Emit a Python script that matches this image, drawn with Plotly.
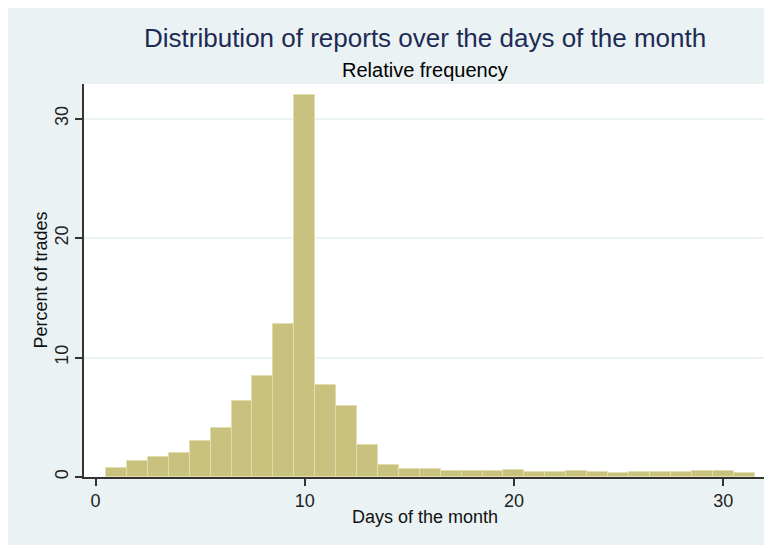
import plotly.graph_objects as go

days = list(range(1, 32))
percent = [0.75, 1.37, 1.71, 2.04, 3.0, 4.14, 6.33, 8.46, 12.85, 32.0,
           7.7, 5.94, 2.68, 1.04, 0.67, 0.67, 0.53, 0.53, 0.48, 0.56,
           0.39, 0.39, 0.5, 0.42, 0.34, 0.42, 0.42, 0.42, 0.5, 0.53, 0.31]
x_ticks = [0, 10, 20, 30]
y_ticks = [0, 10, 20, 30]

title_text = "Distribution of reports over the days of the month"
subtitle_text = "Relative frequency"
x_title = "Days of the month"
y_title = "Percent of trades"

# page body has an 8px margin, so the figure starts at (8, 8) in the window
W, H = 762, 537
L, R, T, B = 76, 5, 76, 68
pw, ph = W - L - R, H - T - B

fig = go.Figure()
fig.add_trace(go.Bar(
    x=days, y=percent, width=1,
    marker=dict(color="#C9C27E", line=dict(color="#E2DDAE", width=1)),
    hoverinfo="x+y",
))

fig.update_layout(
    width=W, height=H,
    margin=dict(l=L, r=R, t=T, b=B),
    paper_bgcolor="#EAF2F3", plot_bgcolor="white",
    font=dict(family="Liberation Sans, Arial, sans-serif", color="#111111"),
    showlegend=False, bargap=0,
    annotations=[
        dict(text=title_text, xref="paper", yref="paper", x=0.5, y=1 + (T - 30.5) / ph,
             showarrow=False, xanchor="center", yanchor="middle",
             font=dict(size=26, color="#1E2B55")),
        dict(text=subtitle_text, xref="paper", yref="paper", x=0.5, y=1 + (T - 62) / ph,
             showarrow=False, xanchor="center", yanchor="middle",
             font=dict(size=20, color="#000000")),
        dict(text=x_title, xref="paper", yref="paper", x=0.5, y=-(509 - (T + ph)) / ph,
             showarrow=False, xanchor="center", yanchor="middle",
             font=dict(size=18, color="#111111")),
        dict(text=y_title, xref="paper", yref="paper", x=(32 - L) / pw, y=0.5,
             showarrow=False, xanchor="center", yanchor="middle", textangle=-90,
             font=dict(size=18, color="#111111")),
    ],
)
fig.update_xaxes(
    range=[-0.55, 32.0], tickvals=x_ticks, ticks="outside", ticklen=7, tickwidth=1.5,
    tickcolor="#333333", showline=True, linecolor="#333333", linewidth=1.5,
    showgrid=False, zeroline=False, tickfont=dict(size=18, color="#222222"),
)
fig.update_yaxes(
    range=[0, 32.9], tickvals=y_ticks, ticks="outside", ticklen=7, tickwidth=1.5,
    tickcolor="#333333", showline=True, linecolor="#333333", linewidth=1.5,
    showgrid=True, gridcolor="#EAF2F3", gridwidth=1.5, zeroline=False,
    tickangle=-90, tickfont=dict(size=18, color="#222222"),
)

fig.write_html("out.html")
